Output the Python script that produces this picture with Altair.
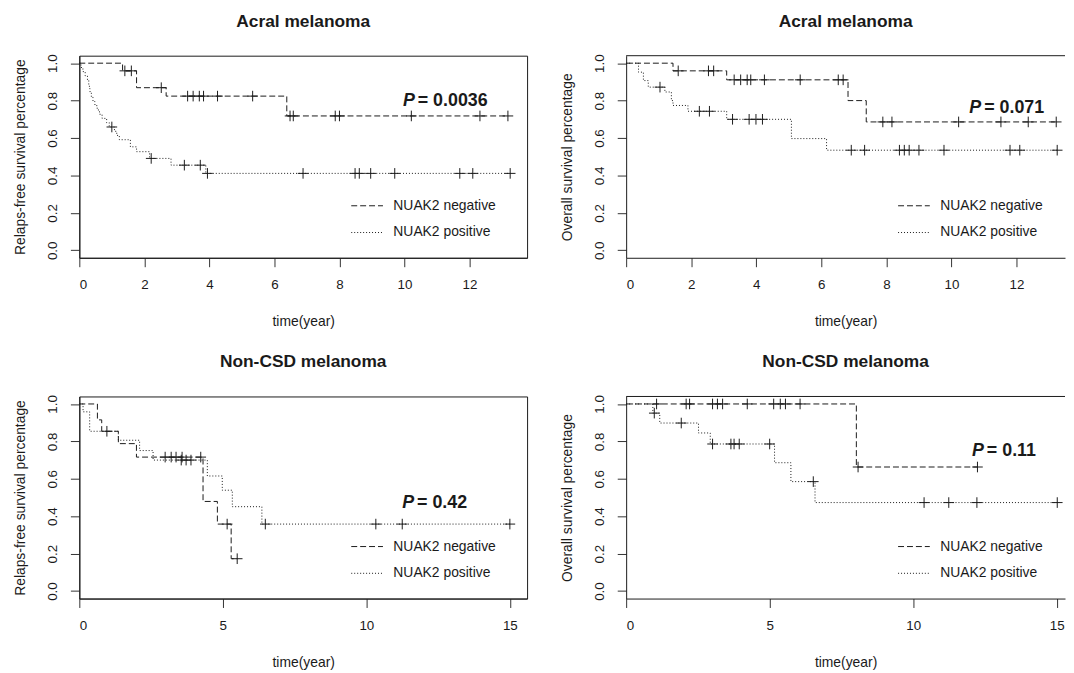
import altair as alt
import pandas as pd

FONT = "Liberation Sans"
INK = "#1a1a1a"
GROUPS = ["NUAK2 negative", "NUAK2 positive"]

# ---------- Acral melanoma, relapse-free survival ----------
A_neg_time = [0, 1.33, 1.76, 2.67, 6.38]
A_neg_surv = [1.0, 0.959, 0.869, 0.824, 0.718]
A_neg_cens = [1.40, 1.60, 2.52, 3.33, 3.50, 3.69, 3.82, 4.25, 5.33, 6.48, 6.58,
              7.87, 8.00, 10.21, 12.32, 13.18]
A_pos_time = [0, 0.05, 0.11, 0.18, 0.25, 0.29, 0.31, 0.33, 0.37, 0.42, 0.48, 0.55,
              0.62, 0.70, 0.84, 0.92, 1.08, 1.15, 1.23, 1.57, 1.76, 2.16, 2.82, 3.89]
A_pos_surv = [1.0, 0.977, 0.955, 0.932, 0.909, 0.886, 0.864, 0.841, 0.818, 0.795,
              0.773, 0.750, 0.727, 0.705, 0.682, 0.659, 0.636, 0.614, 0.591, 0.553,
              0.527, 0.491, 0.455, 0.411]
A_pos_cens = [1.00, 2.21, 3.23, 3.72, 3.94, 6.88, 8.48, 8.61, 8.96, 9.70, 11.70,
              12.10, 13.25]

# ---------- Acral melanoma, overall survival ----------
B_neg_time = [0, 1.44, 3.09, 6.82, 7.38]
B_neg_surv = [1.0, 0.959, 0.911, 0.800, 0.686]
B_neg_cens = [1.60, 2.53, 2.69, 3.32, 3.52, 3.72, 3.83, 4.25, 5.35, 6.52, 6.67,
              7.89, 8.17, 10.22, 11.52, 12.36, 13.22]
B_pos_time = [0, 0.38, 0.53, 0.68, 1.19, 1.39, 1.44, 1.90, 3.09, 5.08, 6.16]
B_pos_surv = [1.0, 0.952, 0.907, 0.872, 0.846, 0.800, 0.774, 0.743, 0.700, 0.597, 0.535]
B_pos_cens = [1.04, 2.25, 2.56, 3.27, 3.78, 3.99, 4.19, 6.92, 7.33, 8.40, 8.55,
              8.70, 9.00, 9.77, 11.80, 12.10, 13.25]

# ---------- Non-CSD melanoma, relapse-free survival ----------
C_neg_time = [0, 0.63, 0.78, 1.36, 1.99, 4.31, 4.81, 5.29]
C_neg_surv = [1.0, 0.915, 0.854, 0.788, 0.716, 0.479, 0.358, 0.173]
C_neg_cens = [0.96, 2.99, 3.20, 3.37, 3.58, 4.23, 5.15, 5.50]
C_pos_time = [0, 0.13, 0.36, 1.36, 2.10, 2.57, 4.46, 4.98, 5.33, 6.36]
C_pos_surv = [1.0, 0.958, 0.854, 0.806, 0.751, 0.700, 0.615, 0.539, 0.451, 0.358]
C_pos_cens = [3.55, 3.72, 3.89, 6.48, 10.33, 11.25, 15.00]

# ---------- Non-CSD melanoma, overall survival ----------
D_neg_time = [0, 8.02]
D_neg_surv = [1.0, 0.663]
D_neg_cens = [1.06, 2.09, 2.21, 3.01, 3.18, 3.36, 4.22, 5.14, 5.37, 5.55, 6.06,
              8.08, 12.24]
D_pos_time = [0, 0.93, 1.17, 2.52, 2.93, 5.17, 5.74, 6.58]
D_pos_surv = [1.0, 0.951, 0.898, 0.845, 0.786, 0.686, 0.585, 0.473]
D_pos_cens = [0.98, 1.92, 3.01, 3.65, 3.76, 3.94, 5.00, 6.52, 10.38, 11.24, 12.22, 15.02]

TITLES = ["Acral melanoma", "Acral melanoma", "Non-CSD melanoma", "Non-CSD melanoma"]
Y_TITLES = ["Relaps-free survival percentage", "Overall survival percentage",
            "Relaps-free survival percentage", "Overall survival percentage"]
P_VALUES = ["0.0036", "0.071", "0.42", "0.11"]
P_TIME = [9.95, 10.55, 11.25, 12.05]
P_SURV = [0.795, 0.758, 0.473, 0.748]
X_TICKS_TOP = [0, 2, 4, 6, 8, 10, 12]
X_TICKS_BOTTOM = [0, 5, 10, 15]
Y_TICKS = [0.0, 0.2, 0.4, 0.6, 0.8, 1.0]


def level(times, surv, c):
    val = surv[0]
    for t, s in zip(times, surv):
        if t <= c:
            val = s
    return val


def curve_rows(times, surv, cens, group):
    rows = [{"t": t, "s": s, "group": group} for t, s in zip(times, surv)]
    rows.append({"t": max(cens + times), "s": surv[-1], "group": group})
    return rows


def cens_rows(times, surv, cens, group):
    return [{"t": c, "s": level(times, surv, c), "group": group} for c in cens]


def panel(i, neg, pos, xdomain, xticks, width, left_panel):
    lines = pd.DataFrame(curve_rows(*neg, GROUPS[0]) + curve_rows(*pos, GROUPS[1]))
    marks = pd.DataFrame(cens_rows(*neg, GROUPS[0]) + cens_rows(*pos, GROUPS[1]))
    pdf = pd.DataFrame({"t": [P_TIME[i]], "s": [P_SURV[i]], "p": ["P"],
                        "v": ["= " + P_VALUES[i]]})

    x = alt.X("t:Q", scale=alt.Scale(domain=xdomain, nice=False, zero=False),
              axis=alt.Axis(values=xticks, title="time(year)", labelAngle=0,
                            labelPadding=11, titlePadding=24))
    y = alt.Y("s:Q", scale=alt.Scale(domain=[-0.04, 1.04], nice=False, zero=False),
              axis=alt.Axis(values=Y_TICKS, format=".1f", title=Y_TITLES[i],
                            labelAngle=270, labelAlign="center", labelBaseline="bottom",
                            labelPadding=11, titlePadding=18))

    line = alt.Chart(lines).mark_line(interpolate="step-after", color=INK,
                                      strokeWidth=1).encode(
        x=x, y=y,
        strokeDash=alt.StrokeDash(
            "group:N",
            scale=alt.Scale(domain=GROUPS, range=[[6, 3], [1, 2]]),
            legend=alt.Legend(title=None, orient="none", legendX=274, legendY=135,
                              symbolType="stroke", symbolSize=1024,
                              symbolStrokeWidth=1, symbolStrokeColor=INK,
                              labelFont=FONT, labelFontSize=14, labelColor=INK,
                              labelOffset=10, rowPadding=3, padding=0)))

    cens = alt.Chart(marks).mark_point(shape="M-1,0L1,0M0,-1L0,1", size=115,
                                       filled=False, stroke=INK, strokeWidth=1,
                                       opacity=1).encode(x="t:Q", y="s:Q")

    ptxt = alt.Chart(pdf).mark_text(align="left", baseline="middle", font=FONT,
                                    fontSize=18, fontWeight="bold", fontStyle="italic",
                                    color=INK).encode(x="t:Q", y="s:Q", text="p:N")
    vtxt = alt.Chart(pdf).mark_text(align="left", baseline="middle", font=FONT,
                                    fontSize=18, fontWeight="bold", dx=15,
                                    color=INK).encode(x="t:Q", y="s:Q", text="v:N")

    layers = [line, cens, ptxt, vtxt]
    if left_panel:
        view = alt.ViewBackground(stroke=INK, strokeWidth=1)
    else:
        top = alt.Chart(pdf).mark_rule(color=INK, strokeWidth=1).encode(
            y=alt.value(0))
        layers.append(top)
        view = alt.ViewBackground(strokeOpacity=0)

    return alt.layer(*layers).properties(
        width=width, height=204, view=view,
        title=alt.TitleParams(TITLES[i], font=FONT, fontSize=17.5, fontWeight="bold",
                              color=INK, anchor="middle", frame="group", offset=24))


tl = panel(0, (A_neg_time, A_neg_surv, A_neg_cens), (A_pos_time, A_pos_surv, A_pos_cens),
           [0, 13.77], X_TICKS_TOP, 452, True)
tr = panel(1, (B_neg_time, B_neg_surv, B_neg_cens), (B_pos_time, B_pos_surv, B_pos_cens),
           [0, 13.49], X_TICKS_TOP, 443, False)
bl = panel(2, (C_neg_time, C_neg_surv, C_neg_cens), (C_pos_time, C_pos_surv, C_pos_cens),
           [0, 15.6], X_TICKS_BOTTOM, 452, True)
br = panel(3, (D_neg_time, D_neg_surv, D_neg_cens), (D_pos_time, D_pos_surv, D_pos_cens),
           [0, 15.29], X_TICKS_BOTTOM, 443, False)

chart = alt.concat(tl, tr, bl, br, columns=2, spacing={"row": 140, "column": 100},
                   bounds="flush").resolve_scale(
    x="independent", y="independent", strokeDash="independent"
).resolve_legend(strokeDash="independent").resolve_axis(
    x="independent", y="independent"
).properties(
    padding={"left": 5, "top": 1, "right": 0, "bottom": 0}, background="white"
).configure_view(stroke=INK).configure_axis(
    labelFont=FONT, titleFont=FONT, labelFontSize=13.5, titleFontSize=14,
    labelColor=INK, titleColor=INK, titleFontWeight="normal", tickColor="#333",
    domainColor=INK, tickSize=9, grid=False
)

chart.save("out.html", embed_options={"renderer": "svg", "actions": False})
